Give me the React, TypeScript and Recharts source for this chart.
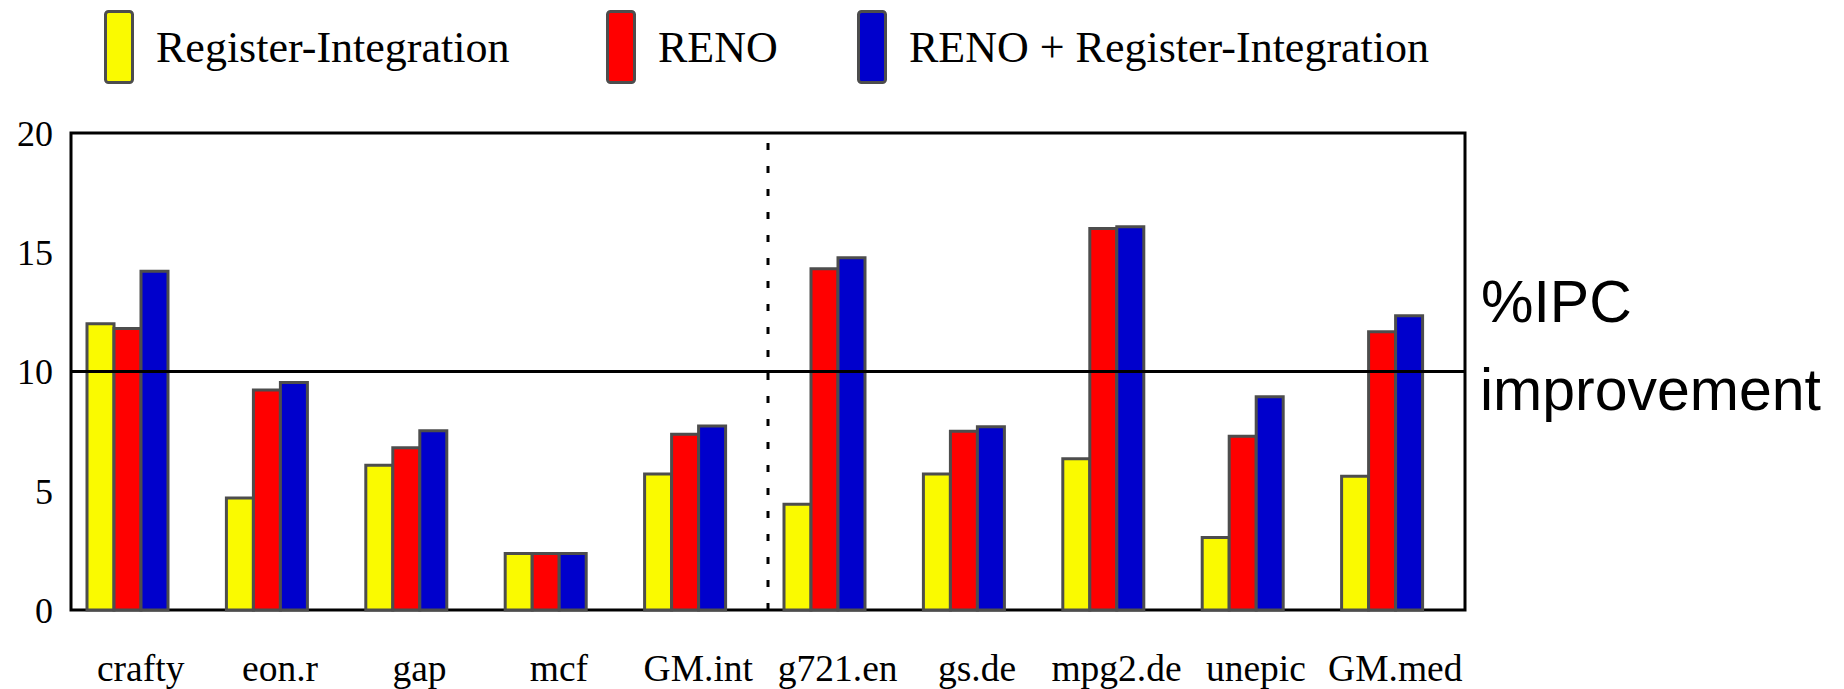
import React from "react";
import { BarChart, Bar, XAxis, YAxis, ReferenceLine, ReferenceArea, Legend, Rectangle } from "recharts";

const benchmarks = ["crafty", "eon.r", "gap", "mcf", "GM.int", "g721.en", "gs.de", "mpg2.de", "unepic", "GM.med"];
const registerIntegration = [12.0, 4.7, 6.07, 2.37, 5.7, 4.43, 5.7, 6.34, 3.04, 5.61];
const reno = [11.8, 9.22, 6.8, 2.37, 7.37, 14.31, 7.5, 16.0, 7.29, 11.67];
const renoPlusRI = [14.2, 9.54, 7.52, 2.37, 7.71, 14.77, 7.68, 16.07, 8.94, 12.34];
const yTicks = [0, 5, 10, 15, 20];

const series = [
  { key: "ri", name: "Register-Integration", color: "#FAFA00" },
  { key: "reno", name: "RENO", color: "#FF0000" },
  { key: "both", name: "RENO + Register-Integration", color: "#0000CC" },
];

const data = benchmarks.map((name, i) => ({
  name,
  ri: registerIntegration[i],
  reno: reno[i],
  both: renoPlusRI[i],
}));

const SERIF = "'Liberation Serif', 'Times New Roman', serif";
const SANS = "'Liberation Sans', Arial, sans-serif";
const legendX = [104, 606, 857];

function LegendContent() {
  return (
    <svg width={1844} height={90} style={{ display: "block" }}>
      {series.map((s, i) => (
        <g key={s.key}>
          <rect x={legendX[i] + 1.5} y={11.5} width={27} height={71} rx={3} fill={s.color} stroke="#4d4d4d" strokeWidth={3} />
          <text x={legendX[i] + 52} y={62} fontFamily={SERIF} fontSize={44} fill="#000">
            {s.name}
          </text>
        </g>
      ))}
    </svg>
  );
}

// bars sit a little left of the category centre in the original
const ShiftedBar = (props: any) => <Rectangle {...props} x={props.x - 13} />;

export default function App() {
  return (
    <div style={{ position: "absolute", left: 0, top: 0, width: 1844, height: 689, background: "#fff" }}>
      <BarChart width={1844} height={689} data={data} margin={{ top: 133, right: 379, bottom: 0, left: 0 }} barSize={27} barGap={0}>
        <XAxis
          dataKey="name"
          height={79}
          tickLine={false}
          tickSize={0}
          tickMargin={44}
          interval={0}
          axisLine={false}
          tick={{ fontFamily: SERIF, fontSize: 37.5, fill: "#000" }}
        />
        <YAxis
          width={71}
          domain={[0, 20]}
          ticks={yTicks}
          tickLine={false}
          tickSize={0}
          tickMargin={18}
          axisLine={false}
          tick={{ fontFamily: SERIF, fontSize: 36, fill: "#000" }}
        />
        <ReferenceLine y={10} stroke="#000" strokeWidth={3} />
        {series.map((s) => (
          <Bar key={s.key} dataKey={s.key} name={s.name} fill={s.color} stroke="#4d4d4d" strokeWidth={3} shape={ShiftedBar} isAnimationActive={false} />
        ))}
        <ReferenceArea y1={0} y2={20} fill="none" fillOpacity={0} stroke="#000" strokeWidth={3} strokeOpacity={1} />
        <ReferenceLine x="g721.en" position="start" stroke="#000" strokeWidth={3} strokeDasharray="7 16" />
        <Legend layout="horizontal" verticalAlign="middle" align="center" content={LegendContent} wrapperStyle={{ top: 0, left: 0, width: 1844, height: 90 }} />
        <text fontFamily={SANS} fontSize={59} fill="#000">
          <tspan x={1481} y={322}>%IPC</tspan>
          <tspan x={1480} y={410}>improvement</tspan>
        </text>
      </BarChart>
    </div>
  );
}
